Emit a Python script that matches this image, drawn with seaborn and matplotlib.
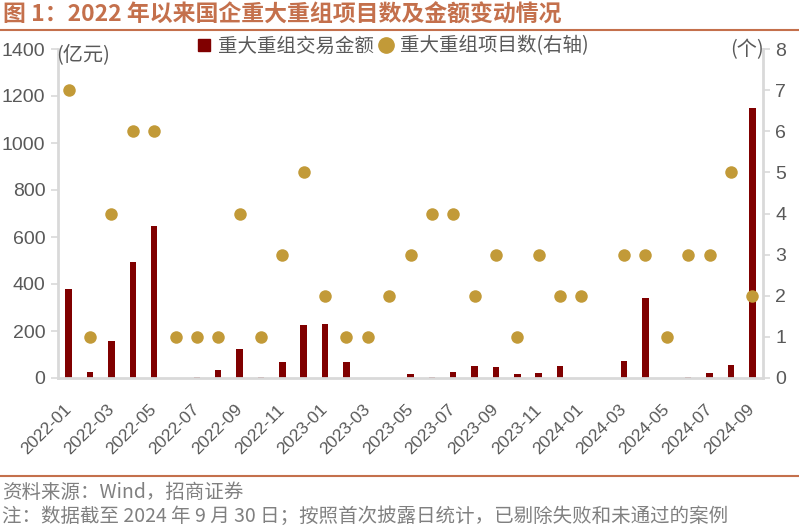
import numpy as np
import pandas as pd
import matplotlib
matplotlib.use("Agg")
import matplotlib.pyplot as plt
from matplotlib.lines import Line2D
from matplotlib.transforms import ScaledTranslation
import seaborn as sns

months = [f"{y}-{m:02d}" for y in (2022, 2023, 2024) for m in range(1, 13)][:33]
amounts = [380, 27, 159, 495, 648, 0, 5, 35, 125, 5, 67, 227, 231, 70, 0, 0,
           18, 6, 24, 52, 48, 18, 23, 52, 0, 0, 74, 342, 0, 6, 23, 57, 1150]
counts = [7, 1, 4, 6, 6, 1, 1, 1, 4, 1, 3, 5, 2, 1, 1, 2,
          3, 4, 4, 2, 3, 1, 3, 2, 2, np.nan, 3, 3, 1, 3, 3, 5, 2]

df = pd.DataFrame({"month": months, "amount": amounts, "count": counts})

sns.set_style("white")
plt.rcParams["font.family"] = ["Noto Sans CJK SC", "DejaVu Sans"]

BAR = "#800000"
DOT = "#C29A38"
GRAY = "#595959"
SPINE = "#D9D9D9"
ACCENT = "#C4704C"

fig = plt.figure(figsize=(7.99, 5.29), dpi=100)
ax = fig.add_axes([58 / 799, 1 - 378 / 529, (763 - 58) / 799, (378 - 49) / 529])
sns.barplot(data=df, x="month", y="amount", order=months, color=BAR,
            saturation=1, width=0.3, linewidth=0, ax=ax)
ax2 = ax.twinx()
sns.stripplot(data=df, x="month", y="count", order=months, jitter=False,
              color=DOT, size=9.0, linewidth=0, ax=ax2, zorder=5)

ax.set_xlim(-0.5, 32.5)
ax.set_ylim(0, 1400)
ax2.set_ylim(0, 8)
ax.set_yticks(range(0, 1401, 200))
ax2.set_yticks(range(0, 9))
ax.set_xticks(range(0, 33, 2))
ax.set_xticklabels(months[::2], rotation=45, ha="right", va="center",
                   rotation_mode="anchor", family="Liberation Sans",
                   fontsize=12.5, color=GRAY)
shift = ScaledTranslation(9 / 100, 0, fig.dpi_scale_trans)
for lab in ax.get_xticklabels():
    lab.set_transform(lab.get_transform() + shift)
ax.set_xlabel("")
ax.set_ylabel("")
ax2.set_ylabel("")

for lab in ax.get_yticklabels():
    lab.set_family("Liberation Sans")
for lab in ax2.get_yticklabels():
    lab.set_family("Liberation Sans")
ax.tick_params(axis="y", labelsize=14, labelcolor=GRAY, color=SPINE, length=5,
               width=1.2, direction="out", left=True, pad=4)
ax2.tick_params(axis="y", labelsize=14, labelcolor=GRAY, color=SPINE, length=5,
                width=1.2, direction="out", right=True, pad=4)
ax.tick_params(axis="x", length=0, pad=21)
ax2.tick_params(axis="x", length=0)

for s in ["top", "right"]:
    ax.spines[s].set_visible(False)
for s in ["top", "left", "bottom"]:
    ax2.spines[s].set_visible(False)
for s in ["left", "bottom"]:
    ax.spines[s].set_color(SPINE)
    ax.spines[s].set_linewidth(2)
ax2.spines["right"].set_color(SPINE)
ax2.spines["right"].set_linewidth(2)

# unit labels
fig.text(56 / 799, 1 - 55 / 529, "(亿元)", fontsize=14.5, color=GRAY, va="center", ha="left")
fig.text(764 / 799, 1 - 50 / 529, "(个)", fontsize=14.5, color=GRAY, va="center", ha="right")

# legend
handles = [Line2D([], [], marker="s", color=BAR, linestyle="none", markersize=9),
           Line2D([], [], marker="o", color=DOT, linestyle="none", markersize=11)]
fig.legend(handles, ["重大重组交易金额", "重大重组项目数(右轴)"], loc="center",
           bbox_to_anchor=(393 / 799, 1 - 46 / 529), ncol=2, frameon=False,
           fontsize=14, handlelength=0.7, handletextpad=0.35, columnspacing=0.3,
           labelcolor=GRAY, borderpad=0)

# title and rules
fig.text(3 / 799, 1 - 15 / 529, "图 1：2022 年以来国企重大重组项目数及金额变动情况",
         fontsize=16.5, fontweight="bold", color=ACCENT, va="center", ha="left")
fig.add_artist(Line2D([0, 1], [1 - 30 / 529, 1 - 30 / 529], color=ACCENT, lw=1.5,
                      transform=fig.transFigure))
fig.add_artist(Line2D([0, 1], [1 - 476 / 529, 1 - 476 / 529], color=ACCENT, lw=1.5,
                      transform=fig.transFigure))

fig.text(2 / 799, 1 - 492 / 529, "资料来源：Wind，招商证券", fontsize=14,
         color="#808080", va="center", ha="left")
fig.text(2 / 799, 1 - 516 / 529,
         "注：数据截至 2024 年 9 月 30 日；按照首次披露日统计，已剔除失败和未通过的案例",
         fontsize=14, color="#808080", va="center", ha="left")

fig.savefig("out.png", dpi=100)
